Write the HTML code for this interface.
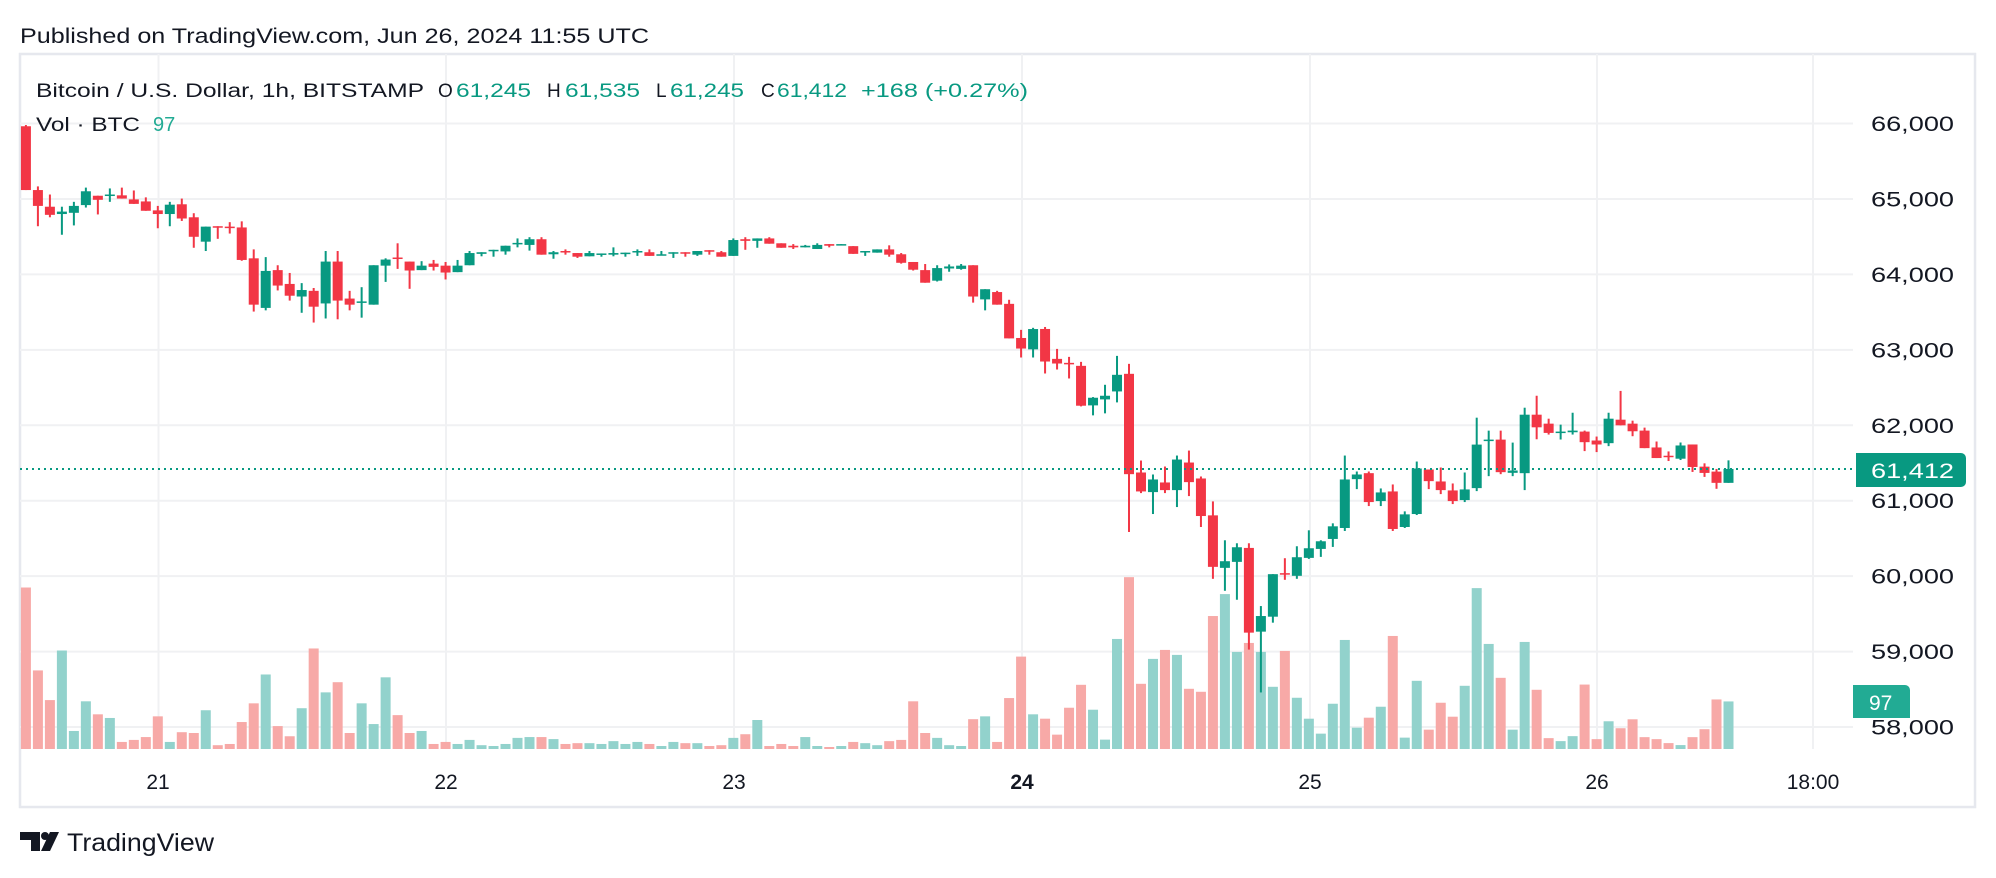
<!DOCTYPE html>
<html><head><meta charset="utf-8">
<style>
html,body{margin:0;padding:0;background:#fff;}
body{width:1996px;height:878px;overflow:hidden;position:relative;font-family:"Liberation Sans",sans-serif;}
svg{position:absolute;left:0;top:0;}
</style></head>
<body>
<svg id="s" width="1996" height="878" viewBox="0 0 1996 878" xmlns="http://www.w3.org/2000/svg" font-family="Liberation Sans, sans-serif">
<text x="20" y="43" font-size="21" fill="#131722" textLength="629" lengthAdjust="spacingAndGlyphs">Published on TradingView.com, Jun 26, 2024 11:55 UTC</text>
<rect x="20" y="54" width="1955" height="753" fill="none" stroke="#E6E8EE" stroke-width="2.5"/>
<g id="grid" stroke="#F0F1F3" stroke-width="2"></g>
<g id="vol"></g>
<g id="cand"></g>
<line x1="20" y1="469" x2="1853" y2="469" stroke="#089981" stroke-width="2" stroke-dasharray="2,4"/>
<g font-size="21" fill="#131722" id="plab"></g>
<path d="M1856 453 H1961 a5 5 0 0 1 5 5 V482 a5 5 0 0 1 -5 5 H1856 Z" fill="#089981"/>
<text x="1871" y="478" font-size="21" fill="#fff" textLength="83" lengthAdjust="spacingAndGlyphs">61,412</text>
<path d="M1853 685 H1905 a5 5 0 0 1 5 5 V718 H1853 Z" fill="#22AB94"/>
<text x="1869" y="710" font-size="21" fill="#fff">97</text>
<g font-size="21" fill="#131722" text-anchor="middle">
<text x="158" y="789">21</text><text x="446" y="789">22</text><text x="734" y="789">23</text>
<text x="1022" y="789" font-weight="bold">24</text><text x="1310" y="789">25</text><text x="1597" y="789">26</text>
<text x="1813" y="789">18:00</text></g>
<text x="36" y="97" font-size="19" fill="#131722" textLength="388" lengthAdjust="spacingAndGlyphs">Bitcoin / U.S. Dollar, 1h, BITSTAMP</text>
<g font-size="19">
<text x="438" y="97" fill="#131722">O</text><text x="456" y="97" fill="#089981" textLength="75" lengthAdjust="spacingAndGlyphs">61,245</text>
<text x="547" y="97" fill="#131722">H</text><text x="565" y="97" fill="#089981" textLength="75" lengthAdjust="spacingAndGlyphs">61,535</text>
<text x="656" y="97" fill="#131722">L</text><text x="670" y="97" fill="#089981" textLength="74" lengthAdjust="spacingAndGlyphs">61,245</text>
<text x="761" y="97" fill="#131722">C</text><text x="777" y="97" fill="#089981" textLength="70" lengthAdjust="spacingAndGlyphs">61,412</text>
<text x="861" y="97" fill="#089981" textLength="167" lengthAdjust="spacingAndGlyphs">+168 (+0.27%)</text>
<text x="36" y="131" fill="#131722" textLength="104" lengthAdjust="spacingAndGlyphs">Vol · BTC</text>
<text x="153" y="131" fill="#22AB94" font-size="20">97</text></g>
<g fill="#131722">
<path d="M20 832 H40 V851 H31 V840 H20 Z"/><circle cx="45" cy="836" r="4"/><path d="M50 832 H59 L50 851 H41 Z"/>
</g>
<text x="67" y="851" font-size="25" fill="#131722" textLength="147" lengthAdjust="spacingAndGlyphs">TradingView</text>
</svg>
<script>
var NS="http://www.w3.org/2000/svg";
function el(p,t,a){var e=document.createElementNS(NS,t);for(var k in a)e.setAttribute(k,a[k]);p.appendChild(e);return e;}
var g=document.getElementById('grid');
function py(p){return 425.3+(62000-p)*0.07544;}
for(var p=58000;p<=66000;p+=1000){var y=py(p);el(g,'line',{x1:20,x2:1853,y1:y,y2:y});
 var t=el(document.getElementById('plab'),'text',{x:1871,y:y+7.5,textLength:83,lengthAdjust:'spacingAndGlyphs'});t.textContent=(p/1000)+',000';}
[158.5,446,734,1022,1310,1597,1813].forEach(function(x){el(g,'line',{x1:x,x2:x,y1:54,y2:749});});
function yA(Y){return 123+(Y-30)*(603.5/1485);}
function yB(Y){return 349.9+(Y-150)*((727-349.9)/1135);}
function yC(Y){return 380+Y/3.024;}
var A=[[0,38,195,35,195,1173],[0,195,234,186,284,1377],[0,236,256,206,262,1450],[1,248,254,236,305,1328],[1,234,251,224,282,1526],[1,198,232,189,238,1453],[0,209,219,209,255,1485],[1,206,209,191,224,1494],[0,208,216,189,216,1553],[0,218,229,196,229,1548],[0,223,246,213,246,1541],[0,245,254,234,289,1490],[1,231,254,224,284,1553],[0,230,265,216,271,1529],[0,262,310,252,337,1531],[1,285,322,285,345,1475],[0,284,286,284,315,1561],[0,285,288,274,302,1558],[0,287,367,272,369,1504],[0,363,477,341,494,1458],[1,394,485,360,491,1387],[0,392,430,380,442,1514],[0,426,455,399,467,1539],[1,441,457,424,497,1470],[0,443,482,436,521,1323],[1,371,474,345,511,1431],[0,371,467,345,513,1406],[0,462,477,443,491,1531],[1,469,472,434,509,1458],[1,380,477,380,477,1509],[1,366,381,363,421,1394],[0,361,364,326,389,1487],[0,371,393,371,438,1531],[1,381,392,370,392,1526],[0,376,384,367,393,1558],[0,381,398,372,415,1553],[1,381,397,367,397,1558],[1,350,380,345,380,1548],[1,348,352,348,358,1561],[1,342,345,342,359,1563],[1,332,346,332,354,1558],[1,325,328,314,336,1543],[1,316,330,311,344,1541],
[0,316,354,311,354,1541],[1,348,353,345,364,1546],[0,345,348,341,354,1558],[0,350,359,350,362,1556],[1,350,358,345,358,1556],[1,351,353,351,359,1558],[1,350,354,336,358,1551],[1,349,351,349,359,1558],[1,345,348,341,357,1553],[0,348,357,341,357,1558],[1,353,356,345,356,1563],[1,348,351,348,362,1553],[0,348,351,348,359,1556],[1,345,354,345,357,1556],[0,343,346,343,354,1563],[0,348,359,345,359,1561],[1,318,357,314,357,1543],[0,316,320,311,342,1534],[1,314,320,314,337,1499],[0,314,327,311,327,1563],[0,326,337,326,337,1558],[0,332,336,328,340,1563],[1,332,336,330,336,1541],[1,330,340,326,340,1563],[0,328,332,328,336,1566],[1,328,331,328,331,1563],[0,333,352,333,352,1553],[1,345,348,345,357,1556],[1,341,349,341,349,1561],[0,341,354,331,359,1551],[0,353,374,350,376,1548],[0,372,391,372,393,1453],[0,392,423,377,423,1531],[1,387,418,380,420,1543],[1,383,388,378,396,1561],[1,381,389,377,391,1563],[0,380,457,380,472,1497],[1,439,464,439,491,1490],[0,446,477,443,477,1553],[0,475,560,465,560,1445],[0,559,585,539,607,1343],[1,537,587,534,607,1485]];
var B=[[0,87,185,81,221,1260],[0,177,191,147,209,1308],[0,189,192,171,236,1227],[0,198,318,186,320,1158],[1,294,317,292,347,1233],[1,288,299,255,341,1323],[1,225,275,168,308,1020],[0,222,524,192,698,834],[0,519,576,483,581,1155],[1,540,578,525,644,1080],[0,549,572,501,581,1053],[1,480,572,468,623,1068],[0,489,548,453,590,1170],[0,537,650,531,683,1179],[0,648,803,606,839,951],[1,786,806,723,875,885],[1,744,788,732,902,1059],[0,746,1001,732,1052,1032],[1,951,998,921,1181,1059],[1,825,953,825,971,1164],[0,822,826,777,842,1056],[1,774,830,741,839,1197],[1,747,776,693,779,1260],[1,726,749,723,773,1305],[1,681,719,672,743,1215],[1,540,686,468,695,1023],[1,525,539,516,569,1287],[0,521,608,516,620,1257],[1,579,605,567,620,1224],[0,576,689,555,695,1011],[1,645,683,636,686,1317],[1,507,644,486,647,1146],[0,510,545,510,569,1293],[0,546,572,504,584,1212],[0,573,605,552,614,1254],[1,570,602,519,608,1161],[1,435,566,354,575,867],[1,420,424,393,530,1035],[0,420,518,393,524,1137],[1,513,520,429,530,1293],[1,345,521,324,572,1029],[0,345,383,288,419,1173]];
var C=[[0,132,160,117,165,1083],[1,156,160,135,180,1092],[1,153,158,99,165,1077],[0,156,188,153,215,921],[0,183,195,171,218,1086],[1,117,191,99,200,1032],[0,120,137,33,137,1053],[0,132,155,123,170,1026],[0,153,206,144,206,1080],[0,204,236,186,236,1086],[0,229,233,216,245,1098],[1,198,238,189,242,1104],[0,195,263,195,278,1080],[0,262,281,252,293,1056],[0,277,311,269,329,966],[1,269,311,243,311,972]];
var all=[];A.forEach(function(d){all.push([d,yA]);});B.forEach(function(d){all.push([d,yB]);});C.forEach(function(d){all.push([d,yC]);});
var cg=document.getElementById('cand'),vg=document.getElementById('vol');
var n=all.length;
all.forEach(function(it,i){var d=it[0],f=it[1];var x=1728.5-(n-1-i)*11.99;
 var col=d[0]?'#089981':'#F23645',vcol=d[0]?'#92D2CC':'#F7A9A7';
 var vt=f(d[5]);if(vt>747)vt=747;el(vg,'rect',{x:x-5,y:vt,width:10,height:749-vt,fill:vcol});
 var wt=f(d[3]),wb=f(d[4]);el(cg,'rect',{x:x-1,y:wt,width:2,height:Math.max(1,wb-wt),fill:col});
 var bt=f(d[1]),bb=f(d[2]);el(cg,'rect',{x:x-5,y:bt,width:10,height:Math.max(1.5,bb-bt),fill:col});
});
</script>
</body></html>
